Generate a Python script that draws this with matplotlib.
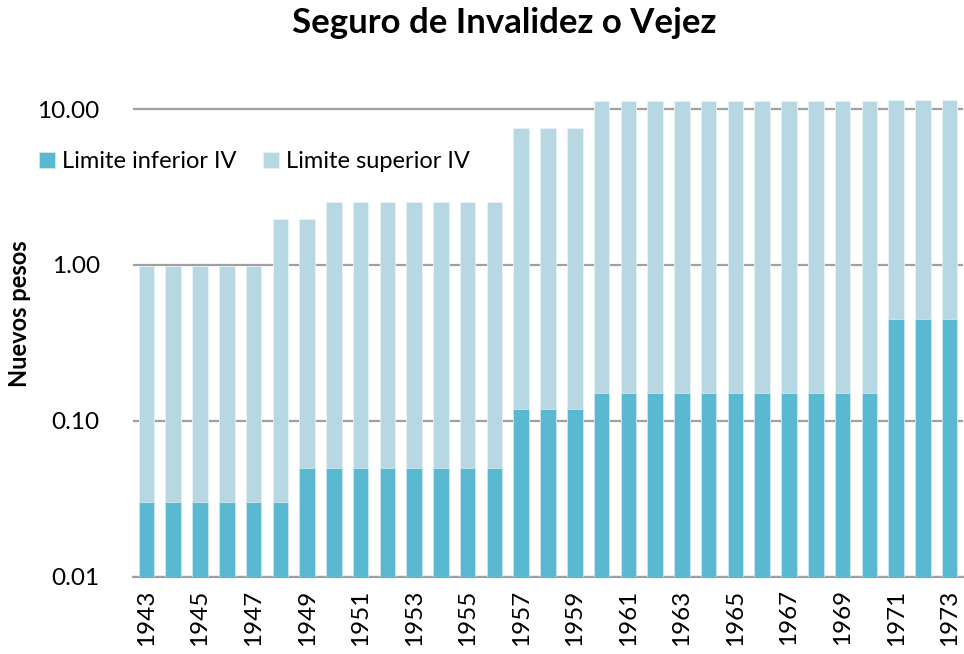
import matplotlib.pyplot as plt
from matplotlib.ticker import FixedLocator, NullLocator

years = list(range(1943, 1974))
limite_inferior = [0.03] * 6 + [0.05] * 8 + [0.12] * 3 + [0.15] * 11 + [0.45] * 3
limite_superior = ([0.97] * 5 + [1.95, 1.97] + [2.53] * 7 + [7.55] * 3
                   + [11.3] * 11 + [11.5] * 3)

plt.rcParams['font.family'] = ['Lato', 'DejaVu Sans']

fig = plt.figure(figsize=(9.64, 6.54), dpi=100)
ax = fig.add_axes([0.138, 0.118, 0.861, 0.76])

x = list(range(len(years)))
ax.bar(x, limite_superior, width=0.58, bottom=0.01, color='#B7D7E3',
       edgecolor='#E8F3F7', linewidth=0.6, label='Limite superior IV', zorder=2)
ax.bar(x, [v - 0.01 for v in limite_inferior], width=0.58, bottom=0.01, color='#5BB8D1',
       edgecolor='#CDE8F0', linewidth=0.6, label='Limite inferior IV', zorder=3)

ax.set_yscale('log')
ax.set_ylim(0.01, 15.4)
ax.set_xlim(-0.5, len(years) - 0.5)
ax.yaxis.set_major_locator(FixedLocator([0.01, 0.1, 1, 10]))
ax.yaxis.set_minor_locator(NullLocator())
ax.set_yticklabels(['0.01', '0.10', '1.00', '10.00'])
ax.grid(axis='y', color='#A0A0A0', linewidth=1.6, zorder=1)
ax.set_axisbelow(True)

ax.set_xticks(x[::2])
ax.set_xticklabels([str(y) for y in years[::2]], rotation=90)
ax.tick_params(axis='both', length=0, labelsize=17.5)
ax.tick_params(axis='x', pad=9)
ax.tick_params(axis='y', pad=24)

for s in ['top', 'right', 'left']:
    ax.spines[s].set_visible(False)
ax.spines['bottom'].set_color('#A0A0A0')
ax.spines['bottom'].set_linewidth(1.6)

ax.set_ylabel('Nuevos pesos', fontsize=17, fontweight='bold')
ax.yaxis.set_label_coords(-0.123, 0.53)
fig.text(0.523, 0.965, 'Seguro de Invalidez o Vejez', fontsize=25, fontweight='bold',
         ha='center', va='center')

handles, labels = ax.get_legend_handles_labels()
ax.legend(handles[::-1], labels[::-1], loc='upper left', ncol=2, frameon=False,
          fontsize=17, handlelength=0.7, handleheight=0.7, handletextpad=0.3,
          columnspacing=1.1, bbox_to_anchor=(-0.125, 0.875), borderaxespad=0)

fig.savefig('out.png', dpi=100)
